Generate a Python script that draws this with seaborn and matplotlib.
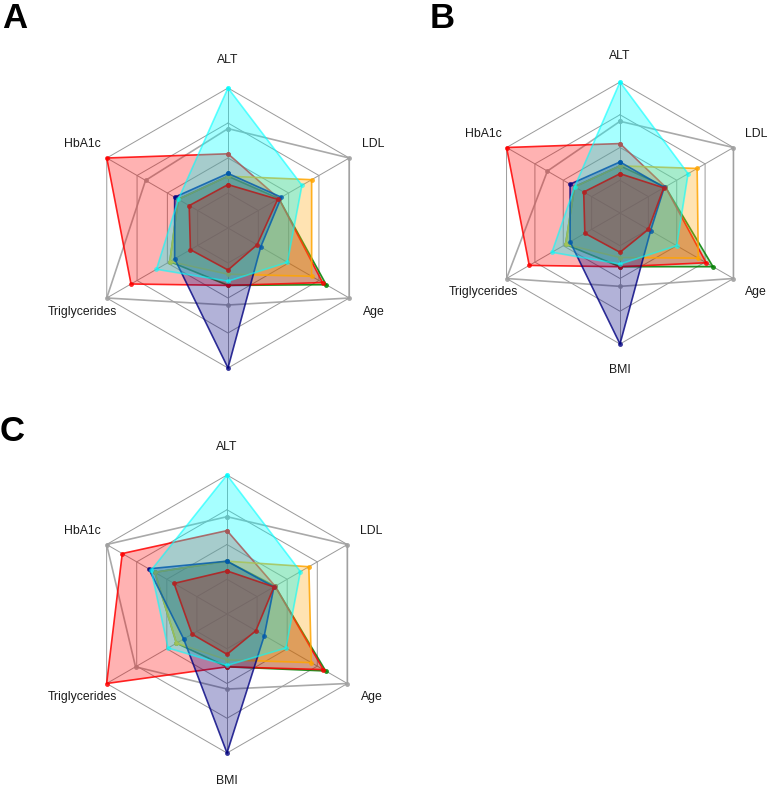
import numpy as np
import matplotlib
matplotlib.use('Agg')
import matplotlib.pyplot as plt
import seaborn as sns

# axes of the radar, clockwise from the top
variables = ['ALT', 'LDL', 'Age', 'BMI', 'Triglycerides', 'HbA1c']
grid_levels = [0.25, 0.5, 0.75, 1.0]

# series in drawing order (colour names match the figure)
series_colors = ['green', '#a0a0a0', 'red', 'orange', 'navy', 'cyan', 'firebrick']
series_fill = [0.25, 0.0, 0.3, 0.3, 0.3, 0.35, 0.35]
series_line_alpha = [0.85, 0.9, 0.85, 0.85, 0.8, 0.6, 0.9]

# panel A values (scaled 0-1)
green_a = [0.37, 0.42, 0.81, 0.41, 0.48, 0.41]
grey_a = [0.71, 1.00, 1.00, 0.55, 1.00, 0.68]
red_a = [0.53, 0.42, 0.78, 0.41, 0.80, 1.00]
orange_a = [0.37, 0.69, 0.69, 0.33, 0.48, 0.41]
navy_a = [0.39, 0.44, 0.27, 1.00, 0.44, 0.44]
cyan_a = [1.00, 0.61, 0.49, 0.38, 0.59, 0.41]
firebrick_a = [0.31, 0.41, 0.24, 0.30, 0.31, 0.32]

# panel B values
green_b = [0.36, 0.40, 0.82, 0.41, 0.48, 0.40]
grey_b = [0.70, 1.00, 1.00, 0.56, 1.00, 0.64]
red_b = [0.53, 0.40, 0.76, 0.41, 0.80, 1.00]
orange_b = [0.36, 0.68, 0.69, 0.34, 0.48, 0.40]
navy_b = [0.39, 0.39, 0.27, 1.00, 0.44, 0.44]
cyan_b = [1.00, 0.60, 0.50, 0.39, 0.60, 0.40]
firebrick_b = [0.30, 0.385, 0.25, 0.30, 0.31, 0.32]

# panel C values
green_c = [0.38, 0.40, 0.82, 0.38, 0.42, 0.60]
grey_c = [0.70, 1.00, 1.00, 0.54, 0.76, 1.00]
red_c = [0.60, 0.40, 0.80, 0.38, 1.00, 0.87]
orange_c = [0.38, 0.68, 0.70, 0.33, 0.42, 0.60]
navy_c = [0.38, 0.39, 0.31, 1.00, 0.36, 0.65]
cyan_c = [1.00, 0.61, 0.49, 0.37, 0.49, 0.63]
firebrick_c = [0.31, 0.39, 0.24, 0.29, 0.29, 0.44]

panels = {
    'A': [green_a, grey_a, red_a, orange_a, navy_a, cyan_a, firebrick_a],
    'B': [green_b, grey_b, red_b, orange_b, navy_b, cyan_b, firebrick_b],
    'C': [green_c, grey_c, red_c, orange_c, navy_c, cyan_c, firebrick_c],
}

sns.set_theme(style='white')
plt.rcParams['font.family'] = ['Liberation Sans', 'DejaVu Sans']

fig = plt.figure(figsize=(7.7, 7.86), dpi=100)

# axes boxes in pixels: (left, top, size)
boxes = {'A': (88, 88, 280), 'B': (489, 82, 262), 'C': (88, 475, 278)}
letters = {'A': (2, 2), 'B': (430, 2), 'C': (0, 415)}
W, H = 770, 786

theta = np.arange(len(variables)) * 2 * np.pi / len(variables)
theta_closed = np.append(theta, theta[0])


def draw_radar(ax, values_list, hide=()):
    ax.set_theta_offset(np.pi / 2)
    ax.set_theta_direction(-1)
    ax.set_ylim(0, 1)
    ax.set_xticks([])
    ax.set_yticks([])
    ax.grid(False)
    ax.spines['polar'].set_visible(False)

    # hexagonal grid
    for lvl in grid_levels:
        ax.plot(theta_closed, [lvl] * len(theta_closed), color='#9a9a9a', lw=0.7, zorder=1, clip_on=False)
    for t in theta:
        ax.plot([t, t], [0, 1], color='#9a9a9a', lw=0.7, zorder=1, clip_on=False)

    z = 2
    for vals, col, fa, la in zip(values_list, series_colors, series_fill, series_line_alpha):
        v = np.append(vals, vals[0])
        if fa > 0:
            ax.fill(theta_closed, v, color=col, alpha=fa, lw=0, zorder=z)
        ax.plot(theta_closed, v, color=col, lw=1.2, marker='o', ms=3.5,
                mew=0, alpha=la, zorder=z + 0.5, clip_on=False)
        z += 1

    for t, name in zip(theta, variables):
        if name in hide:
            continue
        ax.text(t, 1.2, name, ha='center', va='center', fontsize=8.8, color='#1a1a1a')


for key, vals in panels.items():
    left, top, size = boxes[key]
    ax = fig.add_axes([left / W, 1 - (top + size) / H, size / W, size / H], polar=True)
    ax.set_facecolor('none')
    draw_radar(ax, vals, hide=('BMI',) if key == 'A' else ())
    lx, ly = letters[key]
    fig.text(lx / W, 1 - ly / H, key, fontsize=25, fontweight='bold', color='black',
             ha='left', va='top')

fig.savefig('out.png', dpi=100, facecolor='white')
